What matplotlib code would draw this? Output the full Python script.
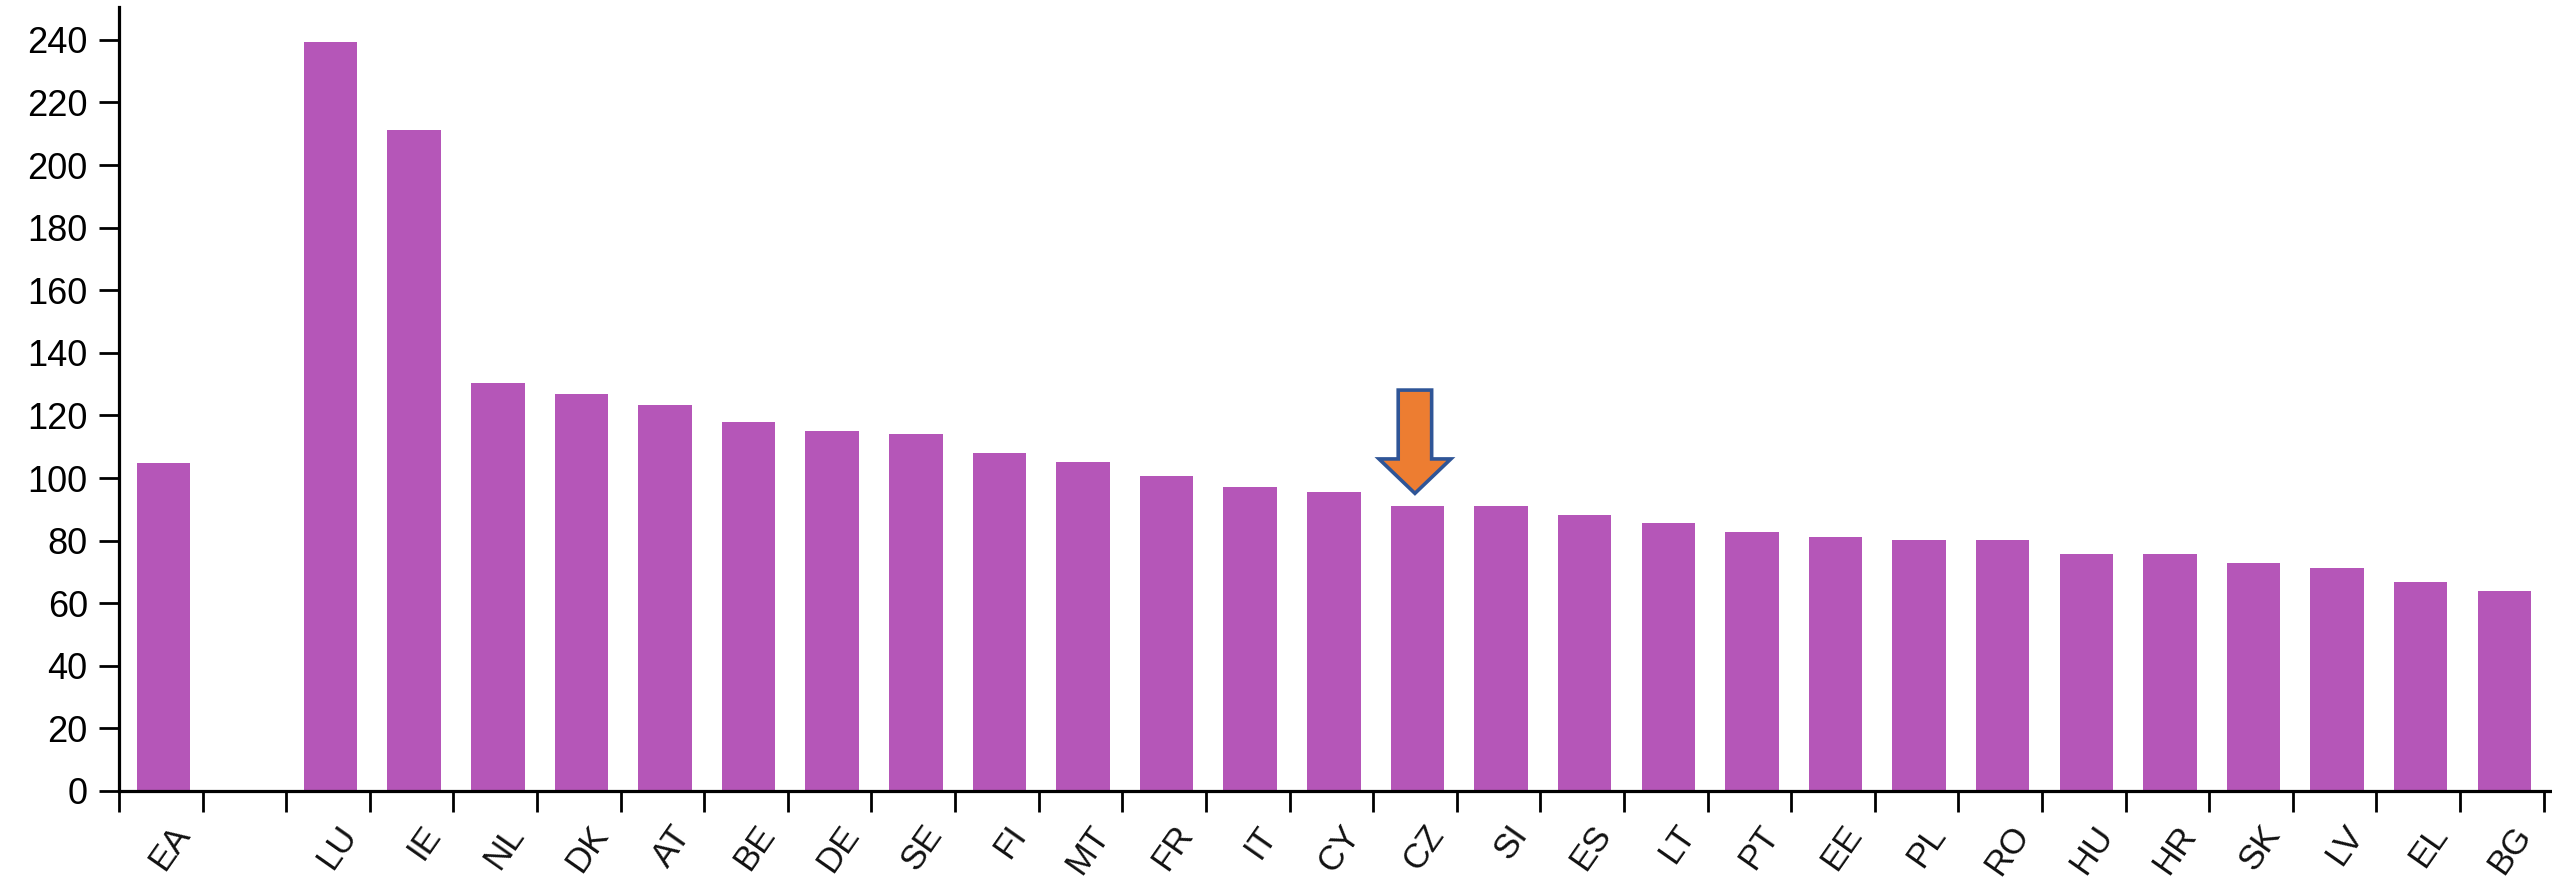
import matplotlib.pyplot as plt
from matplotlib.patches import Polygon
from matplotlib.transforms import blended_transform_factory, ScaledTranslation
import numpy as np

plt.rcParams['font.family'] = ['Liberation Sans', 'DejaVu Sans']

countries = ["EA", "", "LU", "IE", "NL", "DK", "AT", "BE", "DE", "SE", "FI", "MT", "FR", "IT",
             "CY", "CZ", "SI", "ES", "LT", "PT", "EE", "PL", "RO", "HU", "HR", "SK", "LV", "EL", "BG"]
values = [104.8, np.nan, 239.3, 211.2, 130.4, 126.9, 123.4, 117.9, 115.1, 114.1, 108.0, 105.1,
          100.7, 97.2, 95.6, 91.1, 91.1, 88.2, 85.6, 82.8, 81.2, 80.2, 80.2, 75.7, 75.7, 72.9,
          71.3, 66.8, 63.9]
yticks = list(range(0, 241, 20))
highlight = "CZ"

bar_color = "#B556B8"

fig = plt.figure(figsize=(25.52, 8.82), dpi=100)
ax = fig.add_axes([119 / 2552, 91 / 882, 1 - 119 / 2552, 784 / 882])

x = np.arange(len(countries))
ax.bar(x + 0.03, values, width=0.64, color=bar_color, zorder=2)

ax.set_xlim(-0.5, 28.6)
ax.set_ylim(0, 250.5)

for s in ["top", "right"]:
    ax.spines[s].set_visible(False)
for s in ["left", "bottom"]:
    ax.spines[s].set_linewidth(2.3)

ax.set_yticks(yticks)
ax.tick_params(axis="y", length=14.5, width=2.0, pad=8, labelsize=26)
ax.set_xticks(np.arange(len(countries) + 1) - 0.5)
ax.set_xticklabels([])
ax.tick_params(axis="x", length=15, width=2.0)

# rotated category labels under each slot
trans = blended_transform_factory(ax.transData, ax.transAxes) + \
    ScaledTranslation(22 / 100, -38 / 100, fig.dpi_scale_trans)
for i, c in enumerate(countries):
    ax.text(i, 0, c, transform=trans, rotation=55, rotation_mode="anchor",
            ha="right", va="center", fontsize=25, color="#111111")

# arrow pointing at the highlighted country
i = countries.index(highlight)
v = values[i]
tip = v + 4
base = v + 15
top = v + 37
sw, hw = 0.2, 0.43
arrow = Polygon([(i - sw, top), (i + sw, top), (i + sw, base), (i + hw, base),
                 (i, tip), (i - hw, base), (i - sw, base)], closed=True,
                facecolor="#ED7D31", edgecolor="#2F5597", linewidth=2.6, zorder=3)
ax.add_patch(arrow)

fig.savefig("out.png", dpi=100)
